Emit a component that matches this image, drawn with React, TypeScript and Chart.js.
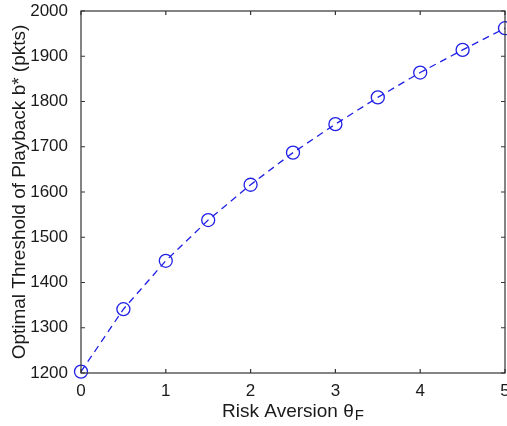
import React, { useEffect, useRef } from 'react';
import { Chart, registerables } from 'chart.js';

Chart.register(...registerables);

const riskAversion = [0, 0.5, 1, 1.5, 2, 2.5, 3, 3.5, 4, 4.5, 5];
const threshold = [1203, 1341, 1448, 1538, 1616, 1687, 1750, 1809, 1864, 1914, 1962];
const xTickValues = [0, 1, 2, 3, 4, 5];
const yTickValues = [1200, 1300, 1400, 1500, 1600, 1700, 1800, 1900, 2000];
const xTitleMain = 'Risk Aversion θ';
const xTitleSub = 'F';
const yTitle = 'Optimal Threshold of Playback b* (pkts)';

const FONT = 'Arial, "Liberation Sans", sans-serif';
const LINE_COLOR = '#2020e6';
const AXIS_COLOR = '#333333';
const TEXT_COLOR = '#1a1a1a';

const framePlugin = {
  id: 'matlabFrame',
  afterDraw(chart: any) {
    const { ctx, chartArea } = chart;
    const { left, right, top, bottom } = chartArea;
    const xs = chart.scales.x;
    const ys = chart.scales.y;
    ctx.save();
    ctx.strokeStyle = AXIS_COLOR;
    ctx.lineWidth = 1.2;
    ctx.strokeRect(left, top, right - left, bottom - top);
    const tl = 4;
    ctx.beginPath();
    xTickValues.forEach((v) => {
      const px = xs.getPixelForValue(v);
      ctx.moveTo(px, bottom);
      ctx.lineTo(px, bottom - tl);
      ctx.moveTo(px, top);
      ctx.lineTo(px, top + tl);
    });
    yTickValues.forEach((v) => {
      const py = ys.getPixelForValue(v);
      ctx.moveTo(left, py);
      ctx.lineTo(left + tl, py);
      ctx.moveTo(right, py);
      ctx.lineTo(right - tl, py);
    });
    ctx.stroke();

    // x axis title with subscript
    ctx.fillStyle = TEXT_COLOR;
    ctx.textBaseline = 'alphabetic';
    ctx.textAlign = 'left';
    const mainFont = `19px ${FONT}`;
    const subFont = `15px ${FONT}`;
    ctx.font = mainFont;
    const w1 = ctx.measureText(xTitleMain).width;
    ctx.font = subFont;
    const w2 = ctx.measureText(xTitleSub).width;
    const cx = (left + right) / 2;
    const startX = cx - (w1 + w2 + 1) / 2;
    const baseY = bottom + 44;
    ctx.font = mainFont;
    ctx.fillText(xTitleMain, startX, baseY);
    ctx.font = subFont;
    ctx.fillText(xTitleSub, startX + w1 + 1, baseY + 3);
    ctx.restore();
  },
};

const zeroPad = (s: any) => {
  s.paddingLeft = 0;
  s.paddingRight = 0;
  s.paddingTop = 0;
  s.paddingBottom = 0;
};

export default function App() {
  const canvasRef = useRef<HTMLCanvasElement | null>(null);

  useEffect(() => {
    if (!canvasRef.current) return;
    const chart = new Chart(canvasRef.current, {
      type: 'line',
      data: {
        datasets: [
          {
            label: 'b*',
            data: riskAversion.map((x, i) => ({ x, y: threshold[i] })),
            borderColor: LINE_COLOR,
            borderWidth: 1.3,
            borderDash: [7, 5],
            pointRadius: 6.5,
            pointStyle: 'circle',
            pointBackgroundColor: 'rgba(0,0,0,0)',
            pointBorderColor: LINE_COLOR,
            pointBorderWidth: 1.3,
            tension: 0,
            fill: false,
            clip: false as any,
          },
        ],
      },
      options: {
        animation: false,
        responsive: false,
        devicePixelRatio: 1,
        layout: { autoPadding: false, padding: { top: 11, right: 2, left: 0, bottom: 0 } },
        plugins: {
          legend: { display: false },
          tooltip: { enabled: false },
        },
        scales: {
          x: {
            type: 'linear',
            min: 0,
            max: 5,
            afterFit: (s: any) => {
              s.height = 53;
              zeroPad(s);
            },
            afterBuildTicks: (s: any) => {
              s.ticks = xTickValues.map((v) => ({ value: v }));
            },
            grid: { display: false },
            border: { display: false },
            ticks: {
              color: TEXT_COLOR,
              font: { family: FONT, size: 17 },
              padding: 0,
              maxRotation: 0,
              callback: (v: any) => String(v),
            },
          },
          y: {
            type: 'linear',
            min: 1200,
            max: 2000,
            afterFit: (s: any) => {
              s.width = 81;
              zeroPad(s);
            },
            afterBuildTicks: (s: any) => {
              s.ticks = yTickValues.map((v) => ({ value: v }));
            },
            grid: { display: false },
            border: { display: false },
            ticks: {
              color: TEXT_COLOR,
              font: { family: FONT, size: 17 },
              padding: 5,
              callback: (v: any) => String(v),
            },
            title: {
              display: true,
              text: yTitle,
              color: TEXT_COLOR,
              font: { family: FONT, size: 19 },
              padding: { top: 8, bottom: 0 },
            },
          },
        },
      },
      plugins: [framePlugin],
    });
    return () => chart.destroy();
  }, []);

  return (
    <div style={{ position: 'absolute', left: 0, top: 0, width: 507, height: 426, background: '#fff' }}>
      <canvas ref={canvasRef} width={507} height={426} />
    </div>
  );
}
